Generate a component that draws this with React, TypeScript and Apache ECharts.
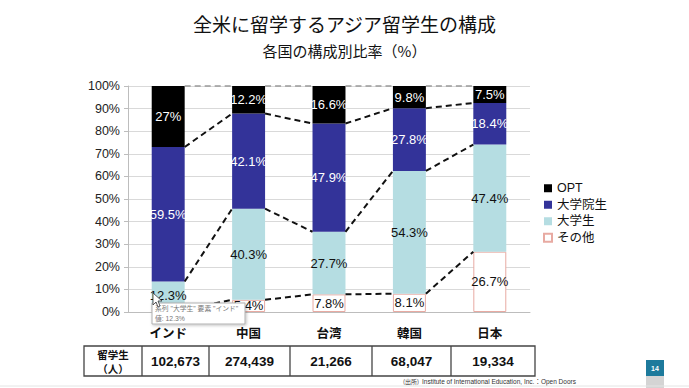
import React, { useEffect, useRef } from "react";
import * as echarts from "echarts";

const categories = ["インド", "中国", "台湾", "韓国", "日本"];
const other = [1.2, 5.4, 7.8, 8.1, 26.7];
const undergrad = [12.3, 40.3, 27.7, 54.3, 47.4];
const grad = [59.5, 42.1, 47.9, 27.8, 18.4];
const opt = [27, 12.2, 16.6, 9.8, 7.5];
const students = [102673, 274439, 21266, 68047, 19334];
const yTicks = [0, 10, 20, 30, 40, 50, 60, 70, 80, 90, 100];

const FONT = "'Liberation Sans', 'Noto Sans CJK JP', sans-serif";
const CJK = "'Noto Sans CJK JP', sans-serif";
const BAR_RATIO = 0.41;

export default function App() {
  const ref = useRef<HTMLDivElement>(null);
  useEffect(() => {
    if (!ref.current) return;
    const chart = echarts.init(ref.current, undefined, { renderer: "svg" });

    const cum1 = other.map((v) => v);
    const cum2 = other.map((v, i) => v + undergrad[i]);
    const cum3 = other.map((v, i) => v + undergrad[i] + grad[i]);
    const cum4 = other.map((v, i) => v + undergrad[i] + grad[i] + opt[i]);
    const levels = [cum1, cum2, cum3, cum4];

    const labelBase = { show: true, position: "inside", fontSize: 13, fontFamily: FONT, formatter: (p: any) => `${p.value}%` };

    const colX = [84, 142, 209, 290, 372, 451, 535];
    const tableTop = 346;
    const tableH = 30;

    const tableEls: any[] = [
      { type: "rect", shape: { x: colX[0], y: tableTop, width: colX[6] - colX[0], height: tableH }, style: { fill: "none", stroke: "#444", lineWidth: 1.3 } },
    ];
    for (let k = 1; k < 6; k++) {
      tableEls.push({ type: "line", shape: { x1: colX[k], y1: tableTop, x2: colX[k], y2: tableTop + tableH }, style: { stroke: "#444", lineWidth: 1.3 } });
    }
    tableEls.push({ type: "text", x: (colX[0] + colX[1]) / 2, y: tableTop + 8.5, style: { text: "留学生", fontSize: 10.5, fontWeight: "bold", fontFamily: CJK, fill: "#111", align: "center", verticalAlign: "middle", lineHeight: 11 } });
    tableEls.push({ type: "text", x: (colX[0] + colX[1]) / 2, y: tableTop + 22, style: { text: "（人）", fontSize: 10.5, fontWeight: "bold", fontFamily: CJK, fill: "#111", align: "center", verticalAlign: "middle", lineHeight: 11 } });
    students.forEach((s, i) => {
      tableEls.push({ type: "text", x: (colX[i + 1] + colX[i + 2]) / 2, y: tableTop + tableH / 2, style: { text: s.toLocaleString("en-US"), fontSize: 13.5, fontWeight: "bold", fontFamily: FONT, fill: "#111", align: "center", verticalAlign: "middle" } });
    });

    const Z = 100;
    chart.setOption({
      animation: false,
      backgroundColor: "#fff",
      title: [
        { text: "全米に留学するアジア留学生の構成", left: "center", top: 9, textStyle: { fontSize: 19, fontWeight: "normal", fontFamily: CJK, color: "#111" } },
        { text: "各国の構成別比率（%）", left: "center", top: 38, textStyle: { fontSize: 15, fontWeight: "normal", fontFamily: CJK, color: "#111" } },
      ],
      legend: {
        data: ["OPT", "大学院生", "大学生", "その他"],
        orient: "vertical",
        left: 538,
        top: 177,
        itemWidth: 8,
        itemHeight: 8,
        itemGap: 4,
        icon: "rect",
        textStyle: { fontSize: 12.5, fontFamily: FONT, color: "#111" },
      },
      grid: { left: 128, right: 159, top: 86, bottom: 76 },
      xAxis: {
        type: "category",
        data: categories,
        axisLine: { lineStyle: { color: "#bdbdbd" } },
        axisTick: { show: false },
        axisLabel: { fontSize: 12.5, fontWeight: "bold", fontFamily: CJK, color: "#111", margin: 14 },
      },
      yAxis: {
        type: "value",
        min: yTicks[0],
        max: yTicks[yTicks.length - 1],
        interval: 10,
        axisLine: { show: true, lineStyle: { color: "#bdbdbd" } },
        axisTick: { show: true, length: 4, lineStyle: { color: "#bdbdbd" } },
        splitLine: { lineStyle: { color: "#d9d9d9" } },
        axisLabel: { fontSize: 12.5, fontFamily: FONT, color: "#222", margin: 8, formatter: "{value}%" },
      },
      series: [
        {
          name: "その他", type: "bar", stack: "total", barWidth: `${BAR_RATIO * 100}%`,
          itemStyle: { color: "#ffffff", borderColor: "#e8aaa2", borderWidth: 1 },
          label: { ...labelBase, color: "#111" },
          data: other.map((v, i) => (i === 0 ? { value: v, label: { show: false } } : v)),
        },
        {
          name: "大学生", type: "bar", stack: "total",
          itemStyle: { color: "#b5dde2" },
          label: { ...labelBase, color: "#111" },
          data: undergrad,
        },
        {
          name: "大学院生", type: "bar", stack: "total",
          itemStyle: { color: "#333399" },
          label: { ...labelBase, color: "#fff" },
          data: grad,
        },
        {
          name: "OPT", type: "bar", stack: "total",
          itemStyle: { color: "#000000" },
          label: { ...labelBase, color: "#fff" },
          data: opt,
        },
        {
          name: "connectors", type: "custom", z: 3,
          encode: { x: 0, y: 1 },
          data: categories.slice(0, -1).map((_, i) => [i, 0]),
          renderItem: (params: any, api: any) => {
            const i = api.value(0);
            const cw = api.size([1, 0])[0];
            const hw = (cw * BAR_RATIO) / 2;
            return {
              type: "group",
              children: levels.map((lv, k) => {
                const p1 = api.coord([i, lv[i]]);
                const p2 = api.coord([i + 1, lv[i + 1]]);
                return {
                  type: "line",
                  shape: { x1: p1[0] + hw, y1: p1[1], x2: p2[0] - hw, y2: p2[1] },
                  style: { stroke: k === 3 ? "#9a9a9a" : "#111", lineWidth: k === 3 ? 1.3 : 2, lineDash: [6, 4] },
                };
              }),
            };
          },
        },
      ],
      graphic: [
        ...tableEls,
        { type: "rect", z: Z, shape: { x: 152, y: 303, width: 93, height: 21 }, style: { fill: "#fff", stroke: "#b0b0b0", lineWidth: 1, shadowBlur: 3, shadowColor: "rgba(0,0,0,0.25)", shadowOffsetX: 1, shadowOffsetY: 1 } },
        { type: "text", z: Z + 1, x: 155, y: 308.5, style: { text: "系列 \"大学生\" 要素 \"インド\"", fontSize: 6.8, fontFamily: FONT, fill: "#777", verticalAlign: "middle" } },
        { type: "text", z: Z + 1, x: 155, y: 318, style: { text: `値: ${undergrad[0]}%`, fontSize: 6.8, fontFamily: FONT, fill: "#777", verticalAlign: "middle" } },
        { type: "polygon", z: Z + 2, shape: { points: [[153, 293], [153, 305], [156, 302], [158, 307], [160, 306], [158, 301], [162, 301]] }, style: { fill: "#fff", stroke: "#333", lineWidth: 0.8 } },
        { type: "text", x: 403, y: 381, style: { text: "(出所)", fontSize: 6, fontFamily: CJK, fill: "#333", verticalAlign: "middle" } },
        { type: "text", x: 422, y: 381, style: { text: "Institute of International Education, Inc.：Open Doors", fontSize: 6.5, fontFamily: FONT, fill: "#333", verticalAlign: "middle" } },
        { type: "rect", shape: { x: 646, y: 360, width: 18, height: 16 }, style: { fill: "#1d7a9c" } },
        { type: "rect", shape: { x: 646, y: 376, width: 18, height: 12 }, style: { fill: "#d4d4d4" } },
        { type: "text", x: 655, y: 368, style: { text: "14", fontSize: 7, fontWeight: "bold", fontFamily: FONT, fill: "#fff", align: "center", verticalAlign: "middle" } },
        { type: "line", shape: { x1: 0, y1: 386, x2: 689, y2: 386 }, style: { stroke: "#e4e4e4", lineWidth: 1 } },
      ],
    });
    return () => chart.dispose();
  }, []);
  return <div ref={ref} style={{ position: "fixed", left: 0, top: 0, width: 689, height: 388 }} />;
}
